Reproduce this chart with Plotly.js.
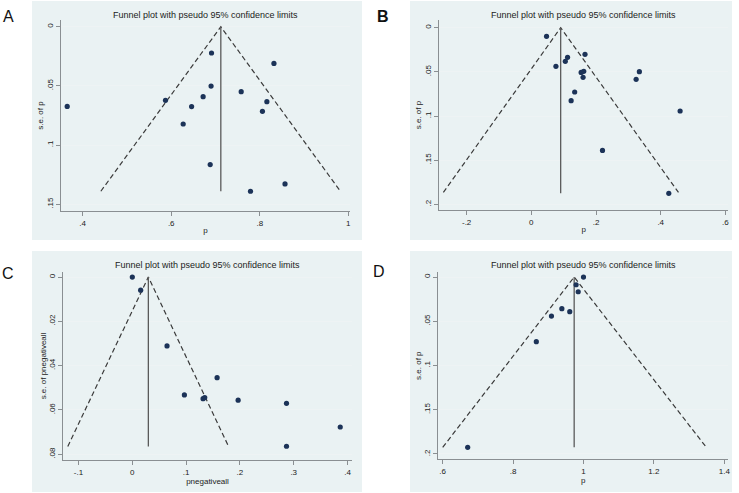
<!DOCTYPE html>
<html><head><meta charset="utf-8">
<script src="https://cdn.plot.ly/plotly-3.0.1.min.js"></script>
<style>html,body{margin:0;padding:0;background:#fff}#chart{width:739px;height:493px}</style>
</head><body><div id="chart"></div>
<script>
// ---------- DATA ----------
// Panel A
const A_p  = [0.365, 0.587, 0.646, 0.672, 0.690, 0.691, 0.627, 0.688, 0.758, 0.832, 0.816, 0.806, 0.779, 0.857];
const A_se = [0.0673, 0.0622, 0.0675, 0.0591, 0.0501, 0.0222, 0.0822, 0.1165, 0.0549, 0.0310, 0.0633, 0.0715, 0.1390, 0.1328];
const A_funnelX = [0.441, 0.712, 0.982];
const A_funnelY = [0.139, 0, 0.139];
const A_pooledX = [0.712, 0.712];
const A_pooledY = [0, 0.139];
const A_xTicks = [0.4, 0.6, 0.8, 1];   const A_xTickText = ['.4', '.6', '.8', '1'];
const A_yTicks = [0, 0.05, 0.1, 0.15]; const A_yTickText = ['0', '.05', '.1', '.15'];

// Panel B
const B_p  = [0.047, 0.076, 0.105, 0.112, 0.166, 0.154, 0.162, 0.160, 0.134, 0.123, 0.334, 0.324, 0.460, 0.220, 0.425];
const B_se = [0.0098, 0.0438, 0.0381, 0.0336, 0.0302, 0.0506, 0.0494, 0.0562, 0.0728, 0.0826, 0.0498, 0.0585, 0.0943, 0.1389, 0.1875];
const B_funnelX = [-0.272, 0.0907, 0.455];
const B_funnelY = [0.1865, 0, 0.1865];
const B_pooledX = [0.0907, 0.0907];
const B_pooledY = [0, 0.1875];
const B_xTicks = [-0.2, 0, 0.2, 0.4, 0.6];   const B_xTickText = ['-.2', '0', '.2', '.4', '.6'];
const B_yTicks = [0, 0.05, 0.1, 0.15, 0.2]; const B_yTickText = ['0', '.05', '.1', '.15', '.2'];

// Panel C
const C_p  = [0, 0.0155, 0.0645, 0.0968, 0.1315, 0.1346, 0.1576, 0.1967, 0.2866, 0.2866, 0.3865];
const C_se = [0, 0.0059, 0.0311, 0.0532, 0.0549, 0.0544, 0.0454, 0.0556, 0.0570, 0.0764, 0.0677];
const C_funnelX = [-0.120, 0.0298, 0.179];
const C_funnelY = [0.0765, 0, 0.0765];
const C_pooledX = [0.0298, 0.0298];
const C_pooledY = [0, 0.0765];
const C_xTicks = [-0.1, 0, 0.1, 0.2, 0.3, 0.4];   const C_xTickText = ['-.1', '0', '.1', '.2', '.3', '.4'];
const C_yTicks = [0, 0.02, 0.04, 0.06, 0.08];     const C_yTickText = ['0', '.02', '.04', '.06', '.08'];

// Panel D
const D_p  = [1.0, 0.979, 0.985, 0.9385, 0.961, 0.909, 0.866, 0.671];
const D_se = [0, 0.0087, 0.0166, 0.0358, 0.0392, 0.0441, 0.0731, 0.1925];
const D_funnelX = [0.600, 0.9735, 1.349];
const D_funnelY = [0.1925, 0, 0.1925];
const D_pooledX = [0.9735, 0.9735];
const D_pooledY = [0, 0.1925];
const D_xTicks = [0.6, 0.8, 1, 1.2, 1.4];        const D_xTickText = ['.6', '.8', '1', '1.2', '1.4'];
const D_yTicks = [0, 0.05, 0.1, 0.15, 0.2];      const D_yTickText = ['0', '.05', '.1', '.15', '.2'];

const panelTitle = 'Funnel plot with pseudo 95% confidence limits';
const panelLetters = ['A', 'B', 'C', 'D'];
const xTitles = ['p', 'p', 'pnegativeall', 'p'];
const yTitles = ['s.e. of p', 's.e. of p', 's.e. of pnegativeall', 's.e. of p'];

// ---------- STYLE / LAYOUT ----------
const W = 739, H = 493;
const FONT = 'Liberation Sans, Arial, sans-serif';
const BG = '#EAF2F3';
const MARK = '#1c3358';
const px = v => v / W;
const py = v => 1 - v / H;

// plot regions (pixels) and axis ranges
const panels = [
  {p: A_p, se: A_se, fx: A_funnelX, fy: A_funnelY, vx: A_pooledX, vy: A_pooledY,
   xt: A_xTicks, xtt: A_xTickText, yt: A_yTicks, ytt: A_yTickText,
   box: [61, 350, 20, 211], xr: [0.351, 1.0038], yr: [0.1557, -0.0057],
   bg: [32, 362, 1, 240], letter: [8, 16, false], titleY: 15},
  {p: B_p, se: B_se, fx: B_funnelX, fy: B_funnelY, vx: B_pooledX, vy: B_pooledY,
   xt: B_xTicks, xtt: B_xTickText, yt: B_yTicks, ytt: B_yTickText,
   box: [439, 728.3, 20, 210], xr: [-0.2855, 0.609], yr: [0.2064, -0.0087],
   bg: [410, 732, 1, 240], letter: [383, 16, true], titleY: 15},
  {p: C_p, se: C_se, fx: C_funnelX, fy: C_funnelY, vx: C_pooledX, vy: C_pooledY,
   xt: C_xTicks, xtt: C_xTickText, yt: C_yTicks, ytt: C_yTickText,
   box: [63.3, 351.7, 272, 460], xr: [-0.1283, 0.4078], yr: [0.0826, -0.0023],
   bg: [32, 362, 251, 492], letter: [8, 273, false], titleY: 265},
  {p: D_p, se: D_se, fx: D_funnelX, fy: D_funnelY, vx: D_pooledX, vy: D_pooledY,
   xt: D_xTicks, xtt: D_xTickText, yt: D_yTicks, ytt: D_yTickText,
   box: [438.3, 728.3, 272, 459.3], xr: [0.5875, 1.4114], yr: [0.206, -0.0057],
   bg: [410, 732, 251, 492], letter: [379, 271, false], titleY: 265}
];

const traces = [];
const layout = {
  width: W, height: H,
  margin: {l: 0, r: 0, t: 0, b: 0},
  paper_bgcolor: '#ffffff', plot_bgcolor: '#ffffff',
  showlegend: false,
  font: {family: FONT, size: 8, color: '#222'},
  shapes: [], annotations: []
};

panels.forEach((P, i) => {
  const k = i === 0 ? '' : String(i + 1);
  const xa = 'x' + k, ya = 'y' + k;
  traces.push({x: P.fx, y: P.fy, xaxis: xa, yaxis: ya, type: 'scatter', mode: 'lines',
    line: {color: '#3a3a3a', width: 1.2, dash: '5px,3px'}, hoverinfo: 'skip'});
  traces.push({x: P.vx, y: P.vy, xaxis: xa, yaxis: ya, type: 'scatter', mode: 'lines',
    line: {color: '#5a5a5a', width: 1.3}, hoverinfo: 'skip'});
  traces.push({x: P.p, y: P.se, xaxis: xa, yaxis: ya, type: 'scatter', mode: 'markers',
    marker: {color: MARK, size: 5.2}});

  const axBase = {
    showline: true, linecolor: '#8a8f92', linewidth: 1,
    ticks: 'outside', ticklen: 4, tickcolor: '#8a8f92', tickwidth: 1,
    zeroline: false, automargin: false, fixedrange: true,
    tickfont: {family: FONT, size: 8, color: '#222'}, tickmode: 'array'
  };
  layout['xaxis' + k] = Object.assign({}, axBase, {
    domain: [px(P.box[0]), px(P.box[1])], anchor: ya, range: P.xr,
    tickvals: P.xt, ticktext: P.xtt, showgrid: false,
    title: {text: xTitles[i], font: {family: FONT, size: 8, color: '#222'}, standoff: 0}
  });
  layout['yaxis' + k] = Object.assign({}, axBase, {
    domain: [py(P.box[3]), py(P.box[2])], anchor: xa, range: P.yr,
    tickvals: P.yt, ticktext: P.ytt, tickangle: -90, showgrid: true, gridcolor: '#EEF3F4',
    title: {text: yTitles[i], font: {family: FONT, size: 8, color: '#222'}, standoff: 0}
  });

  layout.shapes.push({type: 'rect', xref: 'paper', yref: 'paper', layer: 'below',
    x0: px(P.bg[0]), x1: px(P.bg[1]), y0: py(P.bg[3]), y1: py(P.bg[2]),
    fillcolor: BG, line: {width: 0}});

  layout.annotations.push({xref: 'paper', yref: 'paper',
    x: px((P.box[0] + P.box[1]) / 2), y: py(P.titleY), text: panelTitle, showarrow: false,
    xanchor: 'center', yanchor: 'middle', font: {family: FONT, size: 9, color: '#222'}});
  layout.annotations.push({xref: 'paper', yref: 'paper',
    x: px(P.letter[0]), y: py(P.letter[1]),
    text: P.letter[2] ? '<b>' + panelLetters[i] + '</b>' : panelLetters[i], showarrow: false,
    xanchor: 'center', yanchor: 'middle', font: {family: FONT, size: 16, color: '#111'}});
});

Plotly.newPlot('chart', traces, layout, {displayModeBar: false, staticPlot: true});
</script></body></html>
